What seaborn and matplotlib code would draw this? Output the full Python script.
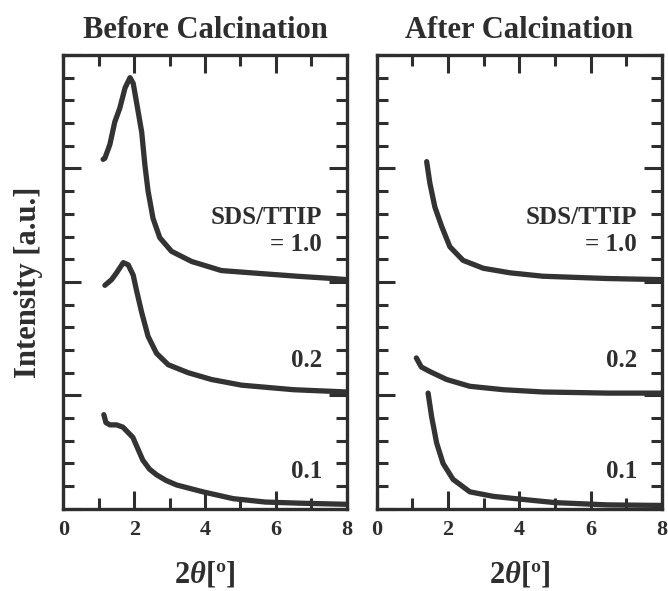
import numpy as np
import pandas as pd
import seaborn as sns
import matplotlib.pyplot as plt

### Data (offset already included: 0.1 -> 0, 0.2 -> 1, 1.0 -> 2)
before_x_10 = [1.12, 1.17, 1.31, 1.45, 1.59, 1.74, 1.88, 1.97, 2.06, 2.21, 2.30, 2.39, 2.53, 2.72, 3.05, 3.62, 4.46, 5.73, 6.6, 7.6, 8.0]
before_y_10 = [3.08, 3.09, 3.21, 3.41, 3.53, 3.71, 3.80, 3.75, 3.59, 3.32, 3.03, 2.80, 2.56, 2.39, 2.27, 2.18, 2.10, 2.07, 2.05, 2.03, 2.02]
before_x_02 = [1.17, 1.36, 1.50, 1.69, 1.83, 1.97, 2.06, 2.21, 2.39, 2.63, 2.96, 3.52, 4.18, 5.03, 6.5, 8.0]
before_y_02 = [1.97, 2.02, 2.08, 2.17, 2.15, 2.06, 1.93, 1.73, 1.52, 1.37, 1.27, 1.20, 1.14, 1.09, 1.05, 1.03]
before_x_01 = [1.14, 1.2, 1.31, 1.5, 1.68, 1.96, 2.10, 2.24, 2.43, 2.63, 2.9, 3.2, 3.94, 4.79, 5.7, 6.67, 8.0]
before_y_01 = [0.83, 0.76, 0.74, 0.74, 0.72, 0.63, 0.53, 0.43, 0.35, 0.30, 0.25, 0.21, 0.15, 0.09, 0.06, 0.05, 0.04]

after_x_10 = [1.40, 1.49, 1.63, 1.82, 2.05, 2.42, 2.99, 3.74, 4.66, 6.45, 8.0]
after_y_10 = [3.06, 2.87, 2.66, 2.49, 2.31, 2.19, 2.12, 2.08, 2.05, 2.03, 2.02]
after_x_02 = [1.11, 1.25, 1.49, 1.96, 2.61, 3.55, 4.66, 6.5, 8.0]
after_y_02 = [1.33, 1.25, 1.21, 1.14, 1.08, 1.05, 1.03, 1.02, 1.02]
after_x_01 = [1.44, 1.54, 1.68, 1.86, 2.14, 2.61, 3.27, 4.2, 5.0, 6.46, 8.0]
after_y_01 = [1.02, 0.81, 0.58, 0.40, 0.26, 0.15, 0.11, 0.08, 0.055, 0.035, 0.03]

titles = ["Before Calcination", "After Calcination"]
ratios = ["1.0", "0.2", "0.1"]
xticks = [0, 2, 4, 6, 8]


def frame(panel, ratio, x, y):
    return pd.DataFrame({"panel": panel, "ratio": ratio, "x": x, "y": y})


df = pd.concat([
    frame(titles[0], "1.0", before_x_10, before_y_10),
    frame(titles[0], "0.2", before_x_02, before_y_02),
    frame(titles[0], "0.1", before_x_01, before_y_01),
    frame(titles[1], "1.0", after_x_10, after_y_10),
    frame(titles[1], "0.2", after_x_02, after_y_02),
    frame(titles[1], "0.1", after_x_01, after_y_01),
], ignore_index=True)

### Style
sns.set_theme(style="ticks")
plt.rcParams["font.family"] = ["Liberation Serif", "DejaVu Serif"]
plt.rcParams["font.weight"] = "bold"
plt.rcParams["mathtext.fontset"] = "custom"
plt.rcParams["mathtext.it"] = "Liberation Serif:italic:bold"
plt.rcParams["mathtext.rm"] = "Liberation Serif:bold"
ink = "#2e2e2e"

fig = plt.figure(figsize=(6.68, 5.91), dpi=100)
axes = [fig.add_axes([0.095, 0.139, 0.424, 0.768]),
        fig.add_axes([0.564, 0.139, 0.427, 0.768])]

label_y = {"1.0": 2.33, "0.2": 1.31, "0.1": 0.33}

for ax, title in zip(axes, titles):
    sub = df[df["panel"] == title]
    for r in ratios:
        sns.lineplot(data=sub[sub["ratio"] == r], x="x", y="y", ax=ax,
                     color="#333333", lw=3.8, sort=False, estimator=None)
    ax.set_xlim(0, 8)
    ax.set_ylim(0, 4)
    ax.set_xticks(xticks)
    ax.set_xticks([1, 3, 5, 7], minor=True)
    ax.set_yticks([0, 1, 2, 3, 4])
    ax.set_yticks(np.arange(0, 4.01, 0.2), minor=True)
    ax.set_yticklabels([])
    ax.set_xticklabels([str(t) for t in xticks], fontsize=16, fontweight="bold", color=ink)
    ax.tick_params(which="both", direction="in", top=True, right=True, width=2.2, color=ink)
    ax.tick_params(which="major", length=13, pad=8)
    ax.tick_params(which="minor", length=8)
    for s in ax.spines.values():
        s.set_linewidth(2.4)
        s.set_color(ink)
    ax.set_title(title, fontsize=22, fontweight="bold", color=ink, pad=12)
    ax.set_xlabel(r"$\mathit{2\theta}$[º]", fontsize=22, fontweight="bold", color=ink, labelpad=14)
    ax.set_ylabel("")
    ax.text(7.3, 2.57, "SDS/TTIP", ha="right", va="center", fontsize=18, fontweight="bold", color=ink)
    for r in ratios:
        txt = "= 1.0" if r == "1.0" else r
        ax.text(7.3, label_y[r], txt, ha="right", va="center", fontsize=18, fontweight="bold", color=ink)

axes[0].set_ylabel("Intensity [a.u.]", fontsize=22, fontweight="bold", color=ink, labelpad=7)

fig.savefig("out.png", dpi=100)
